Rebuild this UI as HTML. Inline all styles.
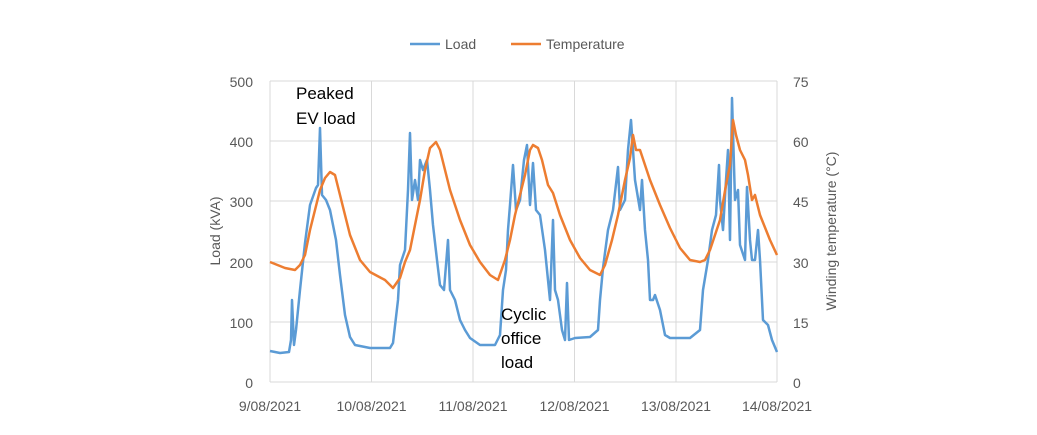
<!DOCTYPE html>
<html><head><style>
body{margin:0;background:#fff;}
svg text{font-family:"Liberation Sans",sans-serif;fill:#595959;}
</style></head><body>
<svg width="1037" height="430" viewBox="0 0 1037 430">
<g stroke="#d9d9d9" stroke-width="1">
<line x1="270" y1="81" x2="777" y2="81"/><line x1="270" y1="141" x2="777" y2="141"/><line x1="270" y1="201" x2="777" y2="201"/><line x1="270" y1="262" x2="777" y2="262"/><line x1="270" y1="322" x2="777" y2="322"/><line x1="270" y1="382" x2="777" y2="382"/>
<line x1="270" y1="81" x2="270" y2="382"/><line x1="371.5" y1="81" x2="371.5" y2="382"/><line x1="473" y1="81" x2="473" y2="382"/><line x1="574.5" y1="81" x2="574.5" y2="382"/><line x1="676" y1="81" x2="676" y2="382"/><line x1="777" y1="81" x2="777" y2="382"/>
</g>
<polyline fill="none" stroke="#5b9bd5" stroke-width="2.5" stroke-linejoin="round" points="270,351 280,353 289,352 291,340 292,300 294,345 296,330 300,290 305,243 310,205 316,188 318,185 320,128 322,195 326,200 330,210 336,240 340,275 345,315 350,337 355,345 370,348 390,348 393,343 398,300 400,265 405,250 408,190 410,133 412,200 415,180 418,200 420,160 423,170 427,160 430,190 433,225 437,260 440,285 444,290 448,240 450,290 455,300 460,320 465,330 470,338 480,345 495,345 500,335 503,290 506,270 508,230 510,205 513,165 516,210 520,200 524,160 527,145 530,205 533,163 536,210 540,215 545,250 548,280 550,300 553,220 555,290 558,300 562,330 565,340 567,283 569,340 575,338 590,337 598,330 600,300 603,268 608,230 613,210 618,167 620,210 625,200 628,150 631,120 635,180 640,210 642,180 645,230 648,260 650,300 653,300 655,295 660,310 665,335 670,338 690,338 700,330 703,290 708,260 712,230 716,215 719,165 720,200 723,230 726,180 728,150 730,240 732,98 735,200 738,190 740,245 745,260 747,187 750,240 752,260 755,260 758,230 760,260 763,320 768,325 772,340 777,352"/>
<polyline fill="none" stroke="#ed7d31" stroke-width="2.5" stroke-linejoin="round" points="270,262 285,268 295,270 300,265 305,255 310,230 315,210 320,190 325,178 330,172 335,175 340,195 345,215 350,235 360,260 370,272 385,280 393,288 400,278 405,262 410,250 415,225 420,200 425,170 430,148 436,142 440,150 445,170 450,190 460,220 470,245 480,262 490,275 498,280 505,260 510,240 515,215 520,195 525,175 530,150 533,145 538,148 542,160 548,185 553,193 560,215 570,240 580,258 590,270 600,275 605,265 612,240 618,215 625,180 630,158 633,135 636,150 640,150 645,165 650,180 660,205 670,228 680,248 690,260 700,262 705,260 710,250 715,235 720,220 726,185 730,165 733,120 736,135 740,150 745,160 748,175 752,200 755,195 760,215 770,240 777,255"/>
<g font-size="14" text-anchor="end">
<text x="253" y="87">500</text><text x="253" y="147">400</text><text x="253" y="207">300</text><text x="253" y="268">200</text><text x="253" y="328">100</text><text x="253" y="388">0</text>
</g>
<g font-size="14" text-anchor="start">
<text x="793" y="87">75</text><text x="793" y="147">60</text><text x="793" y="207">45</text><text x="793" y="268">30</text><text x="793" y="328">15</text><text x="793" y="388">0</text>
</g>
<g font-size="14" text-anchor="middle">
<text x="270" y="411">9/08/2021</text><text x="371.5" y="411">10/08/2021</text><text x="473" y="411">11/08/2021</text><text x="574.5" y="411">12/08/2021</text><text x="676" y="411">13/08/2021</text><text x="777" y="411">14/08/2021</text>
</g>
<text font-size="14" text-anchor="middle" transform="translate(220,231) rotate(-90)">Load (kVA)</text>
<text font-size="14" text-anchor="middle" transform="translate(836,231) rotate(-90)">Winding temperature (°C)</text>
<line x1="410" y1="44" x2="440" y2="44" stroke="#5b9bd5" stroke-width="2.5"/>
<text x="445" y="49" font-size="14">Load</text>
<line x1="511" y1="44" x2="541" y2="44" stroke="#ed7d31" stroke-width="2.5"/>
<text x="546" y="49" font-size="14">Temperature</text>
<g font-size="17" style="fill:#000">
<text x="296" y="99" style="fill:#000">Peaked</text><text x="296" y="124" style="fill:#000">EV load</text>
<text x="501" y="320" style="fill:#000">Cyclic</text><text x="501" y="344" style="fill:#000">office</text><text x="501" y="368" style="fill:#000">load</text>
</g>
</svg>
</body></html>
